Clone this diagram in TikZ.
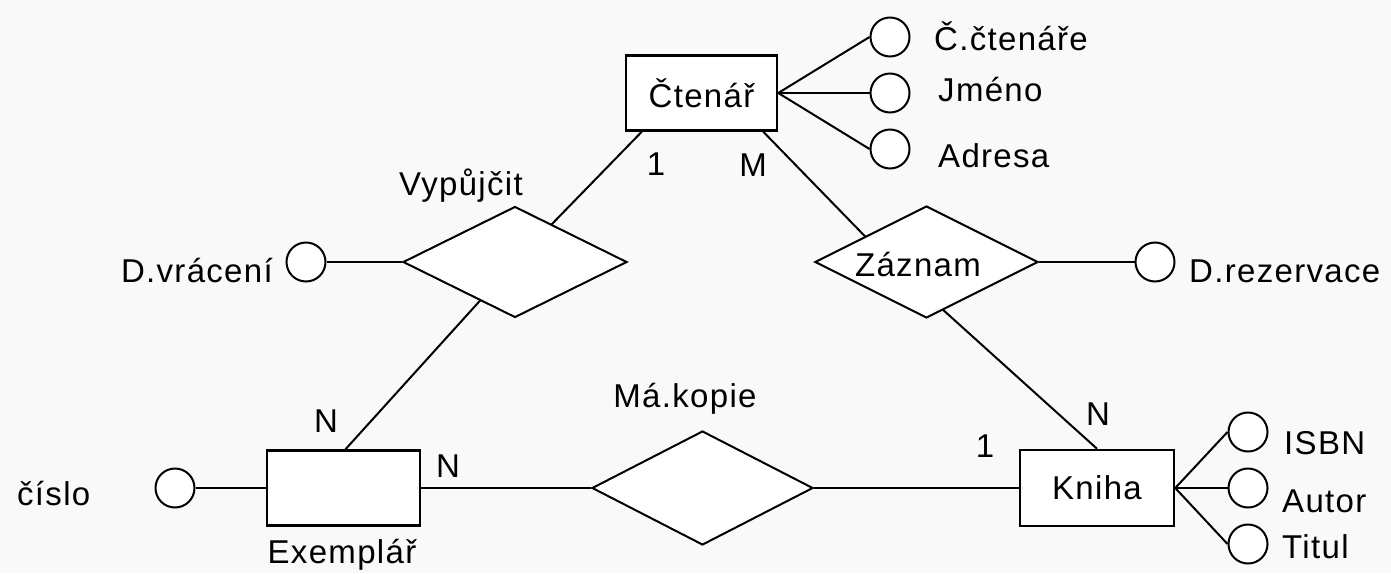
\documentclass[tikz,border=0pt]{standalone}
\usepackage{fontspec}
\setmainfont{Liberation Sans}[LetterSpace=4]
\usetikzlibrary{shapes.geometric,backgrounds}
\definecolor{bgc}{RGB}{249,249,249}
\begin{document}
\begin{tikzpicture}[x=1pt,y=-1pt,
  every node/.style={font=\fontsize{33}{36}\selectfont},
  entity/.style={draw, line width=2.5pt, fill=white, minimum width=151pt, minimum height=75pt, inner sep=0pt},
  rel/.style={draw, diamond, aspect=2, line width=2pt, fill=white, inner sep=0pt},
  attr/.style={draw, circle, line width=2pt, fill=white, minimum size=39pt, inner sep=0pt},
  conn/.style={line width=2pt},
  lbl/.style={inner sep=0pt, anchor=base west},
  card/.style={inner sep=0pt, anchor=base}]
\useasboundingbox (0,0) rectangle (1391,573);
% entities
\node[entity] (ct) at (701.5,93) {Čtenář};
\node[entity, minimum width=153pt] (ex) at (343.5,488) {};
\node[entity, minimum width=154pt, minimum height=76pt] (kn) at (1097,488) {Kniha};
% relationships
\node[rel, minimum width=224pt, minimum height=111pt] (vyp) at (515,262) {};
\node[rel, minimum width=223pt, minimum height=112pt] (zaz) at (926.5,262) {};
\node[rel, minimum width=221pt, minimum height=114pt] (mk) at (702.5,488) {};
\coordinate (zt) at (890,262);
% attributes
\node[attr] (a1) at (890,37) {};
\node[attr] (a2) at (890,93) {};
\node[attr] (a3) at (890,149) {};
\node[attr] (dv) at (306,262) {};
\node[attr] (dr) at (1155,262) {};
\node[attr] (cis) at (175,488) {};
\node[attr] (isbn) at (1248,432) {};
\node[attr] (aut) at (1248,488) {};
\node[attr] (tit) at (1248,544) {};
% labels
\node[lbl] (t1) at (934,50) {Č.čtenáře};
\node[lbl] (t2) at (938,101) {Jméno};
\node[lbl] (t3) at (938,167) {Adresa};
\node[lbl, anchor=base east] (t4) at (273,282) {D.vrácení};
\node[lbl] (t5) at (1189,282) {D.rezervace};
\node[lbl] (t6) at (17,505) {číslo};
\node[lbl] (t7) at (1284,454) {ISBN};
\node[lbl] (t8) at (1282,512) {Autor};
\node[lbl] (t9) at (1282,558) {Titul};
\node[card] (t10) at (342,563) {Exemplář};
\node[card] (t11) at (461,195) {Vypůjčit};
\node[card] (t12) at (918,276) {Záznam};
\node[card] (t13) at (685,407) {Má.kopie};
% cardinalities
\node[card] (c1) at (656,175) {1};
\node[card] (c2) at (753,176) {M};
\node[card] (c3) at (326,432) {N};
\node[card] (c4) at (448,477) {N};
\node[card] (c5) at (985,457) {1};
\node[card] (c6) at (1098,425) {N};
\begin{pgfonlayer}{background}
\fill[bgc] (0,0) rectangle (1391,573);
\draw[conn] ([xshift=17pt]ct.south west) -- (vyp.center);
\draw[conn] ([xshift=-15pt]ct.south east) -- (zt);
\draw[conn] (vyp.center) -- ([xshift=2pt]ex.north);
\draw[conn] (zt) -- (kn.north);
\draw[conn] (ex.east) -- (mk.west);
\draw[conn] (mk.east) -- (kn.west);
\draw[conn] (dv) -- (vyp.west);
\draw[conn] (zaz.east) -- (dr);
\draw[conn] (cis) -- (ex.west);
\draw[conn] (ct.east) -- (a1.west);
\draw[conn] (ct.east) -- (a2.west);
\draw[conn] (ct.east) -- (a3.west);
\draw[conn] (kn.east) -- (isbn.west);
\draw[conn] (kn.east) -- (aut.west);
\draw[conn] (kn.east) -- (tit.west);
\end{pgfonlayer}
\end{tikzpicture}
\end{document}
